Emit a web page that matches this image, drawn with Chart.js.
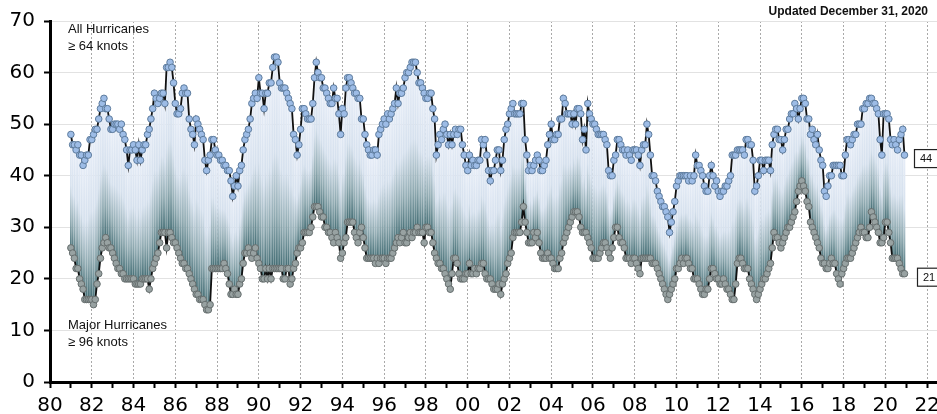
<!DOCTYPE html>
<html>
<head>
<meta charset="utf-8">
<script src="https://cdn.jsdelivr.net/npm/chart.js@4"></script>
<style>
  html, body { margin: 0; padding: 0; background: #fff; overflow: hidden; }
  #wrap { width: 960px; height: 414px; position: relative; }
</style>
</head>
<body>
<div id="wrap"><canvas id="myChart"></canvas></div>
<script>
// 24-month running sums, monthly, Jan 1981 .. Dec 2020
const firstYear = 1981;
const lastYear = 2020;

const allHurricanes = [
  48,46,46,45,46,44,44,42,43,44,44,47, // 1981
  47,48,49,49,51,53,54,55,53,53,51,49, // 1982
  49,50,50,50,49,50,48,47,45,42,45,45, // 1983
  46,45,43,46,43,45,46,46,48,49,51,53, // 1984
  56,55,54,55,56,56,54,61,61,62,61,58, // 1985
  54,52,52,53,56,57,56,56,51,49,48,46, // 1986
  51,50,49,48,47,43,41,43,44,47,47,45, // 1987
  44,44,43,43,42,42,41,41,39,36,38,40, // 1988
  38,41,42,45,47,48,49,51,54,55,56,55, // 1989
  59,56,56,53,56,56,58,58,61,63,63,62, // 1990
  58,57,57,57,56,55,54,53,48,47,44,46, // 1991
  49,53,53,52,51,51,51,54,59,62,60,59, // 1992
  59,57,57,56,55,54,54,57,55,55,52,48, // 1993
  53,52,57,59,59,58,57,56,56,55,55,51, // 1994
  51,48,46,45,44,44,45,45,44,48,49,50, // 1995
  51,50,52,51,52,53,54,57,54,56,56,57, // 1996
  59,60,60,61,62,62,62,60,58,58,57,56, // 1997
  55,55,56,56,53,51,44,46,48,47,49,50, // 1998
  48,46,48,46,48,49,48,49,49,46,44,42, // 1999
  41,44,42,43,42,42,43,43,47,46,47,44, // 2000
  41,39,41,41,43,45,45,41,43,47,49,50, // 2001
  52,53,54,52,52,52,52,54,54,47,44,41, // 2002
  42,41,42,43,44,43,41,41,42,43,46,48, // 2003
  50,47,47,48,48,51,51,55,54,52,52,52, // 2004
  50,52,50,53,53,52,47,49,45,54,52,51, // 2005
  50,50,49,48,48,48,48,47,46,41,40,40, // 2006
  43,44,47,47,46,45,45,44,45,44,43,45, // 2007
  45,45,44,42,45,46,46,50,48,44,40,40, // 2008
  39,37,36,35,34,34,33,32,29,31,33,35, // 2009
  38,39,40,40,40,40,40,39,40,39,40,44, // 2010
  42,42,41,40,38,37,37,40,42,40,38,39, // 2011
  37,36,37,37,38,38,39,40,44,44,44,45, // 2012
  45,45,45,44,47,47,46,46,43,37,38,40, // 2013
  43,43,41,43,43,43,41,46,48,49,49,47, // 2014
  47,45,47,49,49,51,52,52,54,53,51,53, // 2015
  55,55,54,51,51,48,49,47,46,48,45,43, // 2016
  42,37,36,38,40,40,42,42,42,42,42,40, // 2017
  40,44,47,47,46,47,48,48,50,50,50,53, // 2018
  53,54,54,55,55,54,54,53,52,47,44,52, // 2019
  52,52,51,47,46,47,46,45,47,48,49,44  // 2020
];

const majorHurricanes = [
  26,25,24,22,22,20,19,18,16,16,16,16, // 1981
  16,15,16,19,21,24,26,27,28,27,26,26, // 1982
  25,24,23,22,22,21,21,20,20,20,20,20, // 1983
  20,19,19,19,19,20,20,20,20,18,20,22, // 1984
  23,24,25,27,29,29,29,26,29,29,28,27, // 1985
  27,26,25,24,23,23,22,22,21,20,19,18, // 1986
  17,17,16,16,16,15,14,14,15,22,22,22, // 1987
  22,22,22,22,23,22,21,19,17,17,18,17, // 1988
  17,19,20,23,25,25,26,25,24,25,26,24, // 1989
  23,22,20,20,22,20,22,20,22,22,22,22, // 1990
  22,22,20,20,22,22,19,20,22,23,25,26, // 1991
  26,27,29,29,29,29,30,32,34,34,34,33, // 1992
  32,32,30,30,29,29,28,27,29,28,27,24, // 1993
  25,27,28,31,31,31,31,29,28,27,29,30, // 1994
  28,26,24,24,24,24,24,23,24,23,24,24, // 1995
  24,23,24,24,24,25,26,27,28,27,28,29, // 1996
  27,27,28,29,28,29,29,30,29,29,29,27, // 1997
  30,30,29,29,27,25,24,23,23,22,22,21, // 1998
  20,19,18,21,24,24,23,21,20,20,20,21, // 1999
  21,23,21,21,22,21,22,22,23,23,21,20, // 2000
  20,20,19,18,18,18,19,17,19,20,21,23, // 2001
  24,25,28,29,29,29,29,31,34,31,29,27, // 2002
  27,27,29,28,29,27,25,24,24,24,25,24, // 2003
  24,23,22,22,22,24,25,27,28,29,30,31, // 2004
  32,33,33,33,32,30,29,29,29,28,27,26, // 2005
  24,24,24,24,25,26,27,27,26,25,24,26, // 2006
  28,30,30,28,27,27,26,24,24,24,23,24, // 2007
  24,23,22,21,24,24,24,24,24,24,23,23, // 2008
  23,22,21,20,19,18,17,16,17,18,19,20, // 2009
  22,22,23,24,23,24,24,23,22,22,20,20, // 2010
  20,19,18,17,17,18,18,20,22,22,21,20, // 2011
  20,19,19,20,19,18,18,17,16,16,19,23, // 2012
  24,24,23,22,22,22,20,19,18,17,16,17, // 2013
  18,19,20,20,21,22,23,26,29,28,28,27, // 2014
  26,27,28,29,30,30,31,32,33,35,37,38, // 2015
  39,38,37,35,34,31,30,29,28,27,26,24, // 2016
  23,23,22,22,23,24,23,23,21,20,19,21, // 2017
  22,23,24,24,24,25,26,27,28,29,30,29, // 2018
  29,28,28,30,33,32,31,30,29,27,27,28, // 2019
  31,31,29,27,24,24,24,24,23,22,21,21  // 2020
];

const yTicks = [0, 10, 20, 30, 40, 50, 60, 70];

// x position of each month as a decimal year
var months = new Array();
for (var y = firstYear; y <= lastYear; y++) {
  for (var m = 0; m < 12; m++) {
    months.push(y + m / 12);
  }
}

const allPts = months.map((t, i) => ({x: t, y: allHurricanes[i]}));
const majorPts = months.map((t, i) => ({x: t, y: majorHurricanes[i]}));
const spanPts = months.map((t, i) => ({x: t, y: [majorHurricanes[i], allHurricanes[i]]}));

const font = '"DejaVu Sans", sans-serif';

const textPlugin = {
  id: 'texts',
  afterDraw(chart) {
    const c = chart.ctx;
    const ys = chart.scales.y;
    c.save();
    c.fillStyle = '#111';
    c.textBaseline = 'middle';
    c.textAlign = 'left';
    c.font = '13px "Liberation Sans", Arial, sans-serif';
    c.fillText('All Hurricanes', 68, 29);
    c.fillText('\u2265 64 knots', 68, 46);
    c.fillText('Major Hurricanes', 68, 325);
    c.fillText('\u2265 96 knots', 68, 342);

    c.font = 'bold 12px "Liberation Sans", Arial, sans-serif';
    c.textAlign = 'right';
    c.fillText('Updated December 31, 2020', 928, 12);

    // end value boxes
    const lastAll = allHurricanes[allHurricanes.length - 1];
    const lastMajor = majorHurricanes[majorHurricanes.length - 1];
    [[lastAll, 914], [lastMajor, 917]].forEach(function(p) {
      const yc = ys.getPixelForValue(p[0]) + 3;
      c.fillStyle = '#fff';
      c.fillRect(p[1], yc - 9, 26, 18);
      c.strokeStyle = '#222';
      c.lineWidth = 1.2;
      c.strokeRect(p[1] + 0.5, yc - 9 + 0.5, 26, 18);
      c.fillStyle = '#111';
      c.font = '11px "Liberation Sans", Arial, sans-serif';
      c.textAlign = 'left';
      c.fillText(String(p[0]), p[1] + 6, yc + 1);
    });
    c.restore();
  }
};

const ctx = document.getElementById('myChart');

new Chart(ctx, {
  type: 'line',
  data: {
    datasets: [
      {
        label: 'All Hurricanes',
        data: allPts,
        borderColor: '#111',
        borderWidth: 1.8,
        pointRadius: 3.3,
        pointBackgroundColor: '#9dbce6',
        pointBorderColor: '#5d7b9c',
        pointBorderWidth: 1,
        fill: false,
        tension: 0,
        order: 1
      },
      {
        label: 'Major Hurricanes',
        data: majorPts,
        borderColor: '#111',
        borderWidth: 1.8,
        pointRadius: 3.3,
        pointBackgroundColor: '#98a2a2',
        pointBorderColor: '#666e6e',
        pointBorderWidth: 1,
        fill: false,
        tension: 0,
        order: 2
      },
      {
        type: 'bar',
        label: 'span',
        data: spanPts,
        barThickness: 1,
        borderWidth: 0,
        order: 3,
        backgroundColor: function(c) {
          const chart = c.chart;
          if (!chart.chartArea || !c.raw || !c.raw.y) return '#dbe5f1';
          const ys = chart.scales.y;
          const top = ys.getPixelForValue(c.raw.y[1]);
          const bot = ys.getPixelForValue(c.raw.y[0]);
          if (!isFinite(top) || !isFinite(bot) || bot - top < 1) return '#dbe5f1';
          const g = chart.ctx.createLinearGradient(0, top, 0, bot);
          g.addColorStop(0, '#e8eef8');
          g.addColorStop(0.45, '#d6e1ee');
          g.addColorStop(0.75, '#92acb3');
          g.addColorStop(1, '#426c73');
          return g;
        }
      }
    ]
  },
  options: {
    responsive: true,
    maintainAspectRatio: false,
    animation: false,
    layout: { padding: { top: 18, right: 12, left: 0, bottom: 0 } },
    scales: {
      x: {
        type: 'linear',
        min: 1980,
        max: 2023,
        offset: false,
        afterFit: function(s) { s.height = 32; },
        ticks: {
          stepSize: 1,
          autoSkip: false,
          maxRotation: 0,
          padding: 6,
          color: '#000',
          font: { family: font, size: 20 },
          callback: function(v) {
            if (v % 2 !== 0 || v > 2022) return '';
            return String(v % 100).padStart(2, '0');
          }
        },
        grid: {
          offset: false,
          color: function(c) {
            if (!c.tick) return 'rgba(0,0,0,0)';
            const v = c.tick.value;
            return (v % 2 === 0 && v > 1980) ? '#a9a9a9' : 'rgba(0,0,0,0)';
          },
          lineWidth: 1,
          tickColor: '#000',
          tickLength: 6,
          tickWidth: 2
        },
        border: { display: true, color: '#000', width: 3, dash: [2, 2] }
      },
      y: {
        min: 0,
        max: 70,
        afterFit: function(s) { s.width = 50; },
        afterBuildTicks: function(s) { s.ticks = yTicks.map(v => ({value: v})); },
        ticks: {
          padding: 9,
          color: '#000',
          font: { family: font, size: 20 }
        },
        grid: {
          color: function(c) { return (c.tick && c.tick.value === 0) ? 'rgba(0,0,0,0)' : '#e2e2e2'; },
          lineWidth: 1,
          tickColor: '#000',
          tickLength: 6,
          tickWidth: 2
        },
        border: { display: true, color: '#000', width: 3 }
      }
    },
    plugins: {
      legend: { display: false },
      tooltip: { enabled: false }
    }
  },
  plugins: [textPlugin]
});
</script>
</body>
</html>
